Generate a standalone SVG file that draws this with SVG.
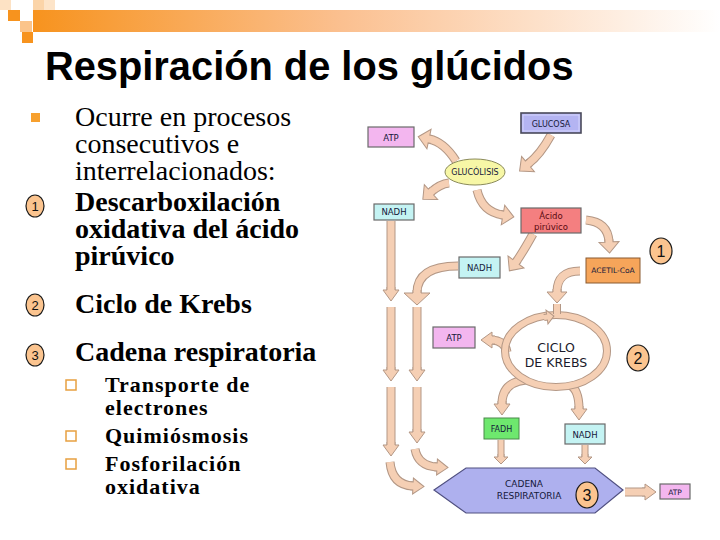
<svg xmlns="http://www.w3.org/2000/svg" width="720" height="540" viewBox="0 0 720 540">
<style>
.ao{fill:none;stroke:#b39785;stroke-width:9}
.ai{fill:none;stroke:#f5cfb4;stroke-width:7}
.aos{fill:none;stroke:#b39785;stroke-width:7}
.ais{fill:none;stroke:#f5cfb4;stroke-width:5}
.ah{fill:#f5cfb4;stroke:#b39785;stroke-width:1}
.box{stroke:#6a6a6a;stroke-width:1.2}
.atp{fill:#f3b6ef}
.nadh{fill:#c4f3f3}
.lbl{font-family:"DejaVu Sans",sans-serif;font-size:8.5px;fill:#14183a;text-anchor:middle}
.num{fill:#fbc48f;stroke:#1a1a1a;stroke-width:1.2}
.numt{font-family:"Liberation Sans",Arial,sans-serif;font-size:16px;fill:#111;text-anchor:middle}
.numl{font-family:"Liberation Sans",Arial,sans-serif;font-size:13px;fill:#111;text-anchor:middle}
.t{font-family:"Liberation Serif","Times New Roman",serif;font-size:28px;fill:#000}
.b{font-weight:bold}
.s{font-family:"Liberation Serif","Times New Roman",serif;font-size:22px;font-weight:bold;letter-spacing:1px;fill:#000}
.sq{fill:none;stroke:#e7a040;stroke-width:1.5}
</style>
<defs>
<linearGradient id="bar" x1="0" x2="1" y1="0" y2="0">
<stop offset="0" stop-color="#f7931e"/>
<stop offset="0.45" stop-color="#fbc090"/>
<stop offset="1" stop-color="#ffffff"/>
</linearGradient>
<path id="hd" d="M-3,-4H0V-8L11,0L0,8V4H-3"/>
<path id="hdm" d="M-3,-4H0V-10L11,0L0,10V4H-3"/>
<path id="hdL" d="M-3,-4H0V-13L12,0L0,13V4H-3"/>
<path id="hds" d="M-3,-3H0V-7L7,0L0,7V3H-3"/>
</defs>
<rect width="720" height="540" fill="#ffffff"/>
<g id="decor">
<rect x="33" y="10" width="687" height="22" fill="url(#bar)"/>
<rect x="0" y="0" width="11" height="10" fill="#fde2c4"/>
<rect x="8" y="10" width="12" height="11" fill="#f7931e"/>
<rect x="20" y="21" width="12" height="11" fill="#fbc48a"/>
<rect x="22" y="32" width="11" height="11" fill="#f7931e"/>
<rect x="33" y="0" width="11" height="10" fill="#fbd4a8"/>
<rect x="44" y="0" width="11" height="10" fill="#fde4c8"/>
</g>
<text x="45" y="80" font-family="Liberation Sans, Arial, sans-serif" font-size="39.8" font-weight="bold" fill="#000">Respiración de los glúcidos</text>
<g id="left-text">
<rect x="31" y="113" width="9" height="9" fill="#f7a02e"/>
<text class="t" x="75" y="126">Ocurre en procesos</text>
<text class="t" x="75" y="153">consecutivos e</text>
<text class="t" x="75" y="180">interrelacionados:</text>
<ellipse class="num" cx="35" cy="206" rx="9" ry="11"/><text class="numl" x="35" y="210.5">1</text>
<text class="t b" x="75" y="211">Descarboxilación</text>
<text class="t b" x="75" y="238">oxidativa del ácido</text>
<text class="t b" x="75" y="265">pirúvico</text>
<ellipse class="num" cx="35" cy="305" rx="9" ry="11"/><text class="numl" x="35" y="309.5">2</text>
<text class="t b" x="75" y="313">Ciclo de Krebs</text>
<ellipse class="num" cx="35" cy="355" rx="9" ry="11"/><text class="numl" x="35" y="359.5">3</text>
<text class="t b" x="75" y="361">Cadena respiratoria</text>
<rect class="sq" x="66" y="380" width="10" height="10"/>
<text class="s" x="105" y="392">Transporte de</text>
<text class="s" x="105" y="415">electrones</text>
<rect class="sq" x="66" y="431" width="10" height="10"/>
<text class="s" x="105" y="443">Quimiósmosis</text>
<rect class="sq" x="66" y="459" width="10" height="10"/>
<text class="s" x="105" y="471">Fosforilación</text>
<text class="s" x="105" y="494">oxidativa</text>
</g>
<g id="connectors">
<g><path class="ao" d="M551 135 Q540 155 528 164"/><path class="ai" d="M551 135 Q540 155 528 164"/><use href="#hdm" class="ah" transform="translate(528,164) rotate(140)"/></g>
<g><path class="ao" d="M456 161 Q444 142 429 139"/><path class="ai" d="M456 161 Q444 142 429 139"/><use href="#hdm" class="ah" transform="translate(429,139) rotate(192)"/></g>
<g><path class="ao" d="M449 183 Q440 184 431 192"/><path class="ai" d="M449 183 Q440 184 431 192"/><use href="#hdm" class="ah" transform="translate(431,192) rotate(138)"/></g>
<g><path class="ao" d="M477 190 Q482 212 503 215"/><path class="ai" d="M477 190 Q482 212 503 215"/><use href="#hdm" class="ah" transform="translate(503,215) rotate(10)"/></g>
<g><path class="ao" d="M586 220 Q608 222 609 242"/><path class="ai" d="M586 220 Q608 222 609 242"/><use href="#hdm" class="ah" transform="translate(609,242) rotate(87)"/></g>
<g><path class="ao" d="M533 234 Q523 252 516 262"/><path class="ai" d="M533 234 Q523 252 516 262"/><use href="#hdm" class="ah" transform="translate(516,262) rotate(127)"/></g>
<g><path class="ao" d="M580 271 Q557 271 557 292"/><path class="ai" d="M580 271 Q557 271 557 292"/><use href="#hdm" class="ah" transform="translate(557,292) rotate(90)"/></g>
<g><path class="ao" d="M391 221 V290"/><path class="ai" d="M391 221 V290"/><use href="#hd" class="ah" transform="translate(391,290) rotate(90)"/></g>
<g><path class="ao" d="M391 307 V370"/><path class="ai" d="M391 307 V370"/><use href="#hd" class="ah" transform="translate(391,370) rotate(90)"/></g>
<g><path class="ao" d="M391 387 V445"/><path class="ai" d="M391 387 V445"/><use href="#hd" class="ah" transform="translate(391,445) rotate(90)"/></g>
<g><path class="ao" d="M458 266 Q417 266 417 293"/><path class="ai" d="M458 266 Q417 266 417 293"/><use href="#hdL" class="ah" transform="translate(417,293) rotate(90)"/></g>
<g><path class="ao" d="M417 307 V370"/><path class="ai" d="M417 307 V370"/><use href="#hd" class="ah" transform="translate(417,370) rotate(90)"/></g>
<g><path class="ao" d="M417 387 V432"/><path class="ai" d="M417 387 V432"/><use href="#hd" class="ah" transform="translate(417,432) rotate(90)"/></g>
<g><path class="ao" d="M390 462 Q392 485 413 486"/><path class="ai" d="M390 462 Q392 485 413 486"/><use href="#hd" class="ah" transform="translate(413,486) rotate(3)"/></g>
<g><path class="ao" d="M415 449 Q418 466 437 467"/><path class="ai" d="M415 449 Q418 466 437 467"/><use href="#hd" class="ah" transform="translate(437,467) rotate(3)"/></g>
<g><path class="ao" d="M507 352 Q505 341 492 340"/><path class="ai" d="M507 352 Q505 341 492 340"/><use href="#hd" class="ah" transform="translate(492,340) rotate(180)"/></g>
<g><path class="ao" d="M526 380 Q502 382 502 404"/><path class="ai" d="M526 380 Q502 382 502 404"/><use href="#hd" class="ah" transform="translate(502,404) rotate(90)"/></g>
<g><path class="ao" d="M570 385 Q579 390 579 409"/><path class="ai" d="M570 385 Q579 390 579 409"/><use href="#hd" class="ah" transform="translate(579,409) rotate(90)"/></g>
<g><path class="aos" d="M501 440 V457"/><path class="ais" d="M501 440 V457"/><use href="#hds" class="ah" transform="translate(501,457) rotate(90)"/></g>
<g><path class="aos" d="M585 445 V457"/><path class="ais" d="M585 445 V457"/><use href="#hds" class="ah" transform="translate(585,457) rotate(90)"/></g>
<g><path class="ao" d="M625 492 H645"/><path class="ai" d="M625 492 H645"/><use href="#hd" class="ah" transform="translate(645,492) rotate(0)"/></g>
</g>
<g id="glucosa">
<rect x="521" y="113" width="60" height="20" fill="#b4b4f2" stroke="#4a4a5a" stroke-width="1.6"/>
<rect x="523" y="115" width="56" height="16" fill="none" stroke="#dcdcff" stroke-width="0.8"/>
<text class="lbl" x="551" y="126.5" style="font-size:8px">GLUCOSA</text>
</g>
<g id="glucolisis">
<ellipse cx="475" cy="172" rx="30" ry="13" fill="#f7f7a6" stroke="#8a8a5a" stroke-width="1"/>
<text class="lbl" x="475" y="175" style="font-size:8px">GLUCÓLISIS</text>
</g>
<g id="atp1"><rect class="box atp" x="368" y="127" width="46" height="20"/><text class="lbl" x="391" y="140.5">ATP</text></g>
<g id="nadh1"><rect class="box nadh" x="374" y="204" width="40" height="16"/><text class="lbl" x="394" y="215">NADH</text></g>
<g id="piruvico">
<rect class="box" x="521" y="208" width="60" height="25" fill="#f47f80"/>
<text class="lbl" x="551" y="219" style="fill:#5a0a10">Ácido</text>
<text class="lbl" x="551" y="229.5" style="fill:#5a0a10">pirúvico</text>
</g>
<g id="acetil"><rect x="586" y="258" width="54" height="25" fill="#f6a55a" stroke="#8a5a30" stroke-width="1"/><text class="lbl" x="613" y="273" style="font-size:7.5px">ACETIL-CoA</text></g>
<g id="nadh2"><rect class="box nadh" x="459" y="257" width="41" height="21"/><text class="lbl" x="479.5" y="270.5">NADH</text></g>
<g id="atp2"><rect class="box atp" x="433" y="327" width="42" height="21"/><text class="lbl" x="454" y="340.5">ATP</text></g>
<g id="krebs">
<ellipse cx="556" cy="351" rx="51" ry="36" class="ao" style="stroke-width:8"/>
<ellipse cx="556" cy="351" rx="51" ry="36" class="ai" style="stroke-width:6"/>
<path class="ao" d="M557 304 V314" style="stroke-width:8"/><path class="ai" d="M557 304 V316" style="stroke-width:6"/>
<use href="#hds" class="ah" transform="translate(547,317) rotate(-8)"/>
<text x="556" y="352" font-family="DejaVu Sans, sans-serif" font-size="12.5" fill="#1a1a2a" text-anchor="middle">CICLO</text>
<text x="556" y="367" font-family="DejaVu Sans, sans-serif" font-size="12.5" fill="#1a1a2a" text-anchor="middle">DE KREBS</text>
</g>
<g id="fadh"><rect x="484" y="418" width="35" height="21" fill="#6ee86e" stroke="#4a8a4a" stroke-width="1"/><text class="lbl" x="501.5" y="431.5" style="font-size:8px">FADH</text></g>
<g id="nadh3"><rect class="box nadh" x="565" y="424" width="40" height="20"/><text class="lbl" x="585" y="437.5">NADH</text></g>
<g id="cadena">
<polygon points="434,490 466,468 595,468 623,490 595,513 466,513" fill="#aeb0ee" stroke="#505080" stroke-width="1.2"/>
<text class="lbl" x="524" y="487" style="font-size:9px">CADENA</text>
<text class="lbl" x="529" y="499" style="font-size:9px">RESPIRATORIA</text>
</g>
<g id="atp3"><rect class="box atp" x="660" y="484" width="30" height="15"/><text class="lbl" x="675" y="494.5" style="font-size:7.5px">ATP</text></g>
<g id="n1"><ellipse class="num" cx="661" cy="251" rx="11" ry="13"/><text class="numt" x="661" y="257">1</text></g>
<g id="n2"><ellipse class="num" cx="638" cy="358" rx="11" ry="13"/><text class="numt" x="638" y="364">2</text></g>
<g id="n3"><ellipse class="num" cx="587" cy="495" rx="11" ry="13"/><text class="numt" x="587" y="501">3</text></g>
</svg>
